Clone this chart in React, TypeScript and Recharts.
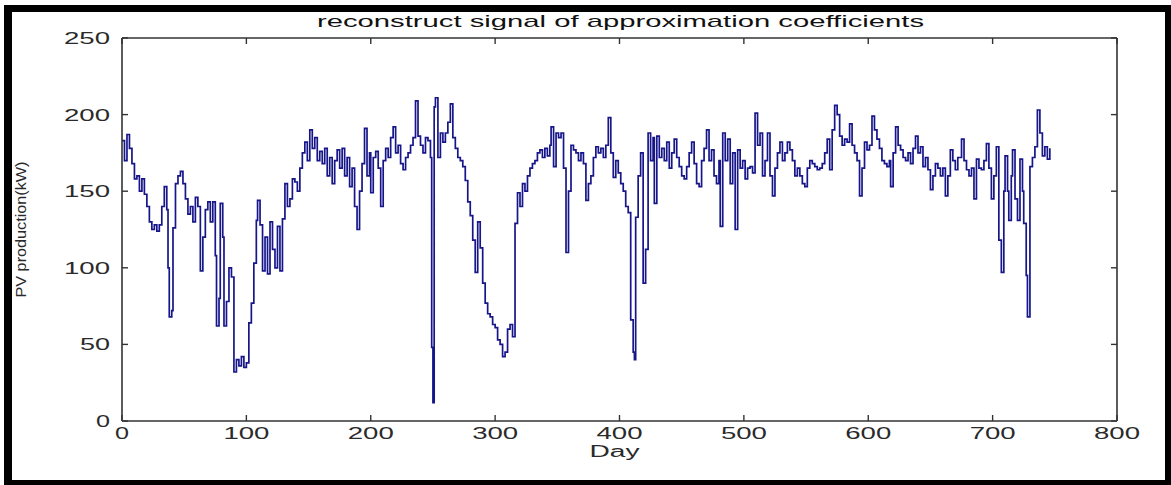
import React from "react";
import { LineChart, Line, XAxis, YAxis } from "recharts";

// ---- data (day, PV production) ----
const daysA = [0,2,4,6,8,10,12,14,16,18,20,22,24,26,28,30,32,34,36,37,38,40,41,43,45,47,49,51,53,55,57,59,61,63,65,67,69,71,73,75,76,78,79,81,82,84,86,88,90,92,94,96,98,100,102,104,106,108,109,111,113,115,117,119,121,123,125,127,129,131,133,135,137,139,141,143,145,147,149,151,153,155,157,159];
const pvA = [183,170,187,178,168,158,160,150,158,148,140,130,125,128,124,128,140,153,138,100,68,72,126,155,160,163,155,145,135,140,130,146,140,98,120,138,143,130,143,108,62,80,142,120,62,78,100,94,32,40,36,42,35,38,64,77,103,131,144,128,98,120,96,130,112,100,127,98,132,155,140,145,158,156,150,165,175,182,170,190,178,185,170,176];

const daysB = [161,163,165,167,169,171,173,175,177,179,181,183,185,187,189,191,193,195,197,199,200,202,204,206,208,210,212,214,216,218,220,222,224,226,228,230,232,234,236,238,240,242,244,246,248,249,250,251,252,254,256,258,260,262,264,266,268,270,272,274,276,278,280,282,284,286,288,290,292,294,296,298,300,302,304,306,308,310,312,314,316,318,320,322,324];
const pvB = [168,178,160,172,155,170,177,165,178,160,172,153,165,140,125,150,168,191,160,175,149,172,176,165,140,170,178,172,185,192,175,180,168,164,172,175,180,185,209,186,180,175,185,183,172,48,12,205,211,172,188,182,188,195,207,185,178,172,170,166,157,143,134,118,97,130,113,90,77,70,68,63,61,53,50,42,45,60,63,55,129,149,140,155,150];

const daysC = [326,328,330,332,334,336,338,340,342,344,345,347,349,351,353,355,357,359,361,363,365,367,369,371,373,375,377,379,381,383,385,387,389,391,393,395,397,399,401,403,405,407,409,411,412,413,415,417,419,421,423,425,427,428,430,432,434,436,438,440,442,444,446,448,450,452,454,456,458,460,462,464,466,468,470,472,474,476,478,480,481,483];
const pvC = [160,165,168,170,175,177,172,178,173,180,192,166,188,185,188,165,110,150,180,177,175,170,175,168,144,155,160,172,179,175,178,172,180,198,175,159,170,162,155,150,140,136,66,45,40,133,160,175,90,112,188,170,185,142,186,172,178,170,182,165,175,184,172,166,160,158,166,175,182,168,155,153,170,178,190,170,177,160,155,170,127,188];

const daysD = [485,487,489,491,493,495,497,499,501,503,505,507,509,511,513,515,517,519,521,523,525,527,529,531,533,535,537,539,541,543,545,547,549,551,553,555,557,559,561,563,565,567,569,571,573,575,577,579,581,583,585,587,589,591,593,595,597,599,601,603,605,607,609,611,613,615,617,618,620,622,624,626,628,630,632,634,636,638,640];
const pvD = [170,184,155,175,125,177,165,170,158,165,166,162,201,180,188,160,170,188,160,147,165,175,182,170,175,182,177,170,160,165,160,155,153,165,170,168,166,164,165,168,175,184,164,190,206,200,186,180,184,182,194,180,175,170,147,165,182,177,180,199,190,184,178,170,168,166,170,153,175,192,180,177,172,170,175,168,178,186,175];

const daysE = [642,644,646,648,650,652,654,656,658,660,662,664,666,668,670,672,675,677,679,681,683,685,687,689,691,693,695,697,699,701,703,705,707,709,710,712,713,715,716,718,720,722,724,725,727,728,730,732,734,736,738,740,742,744,746];
const pvE = [179,166,172,164,151,160,168,165,160,165,147,160,177,170,164,172,184,170,164,160,165,145,171,165,164,170,181,165,145,160,179,118,97,150,173,150,131,160,177,145,131,171,150,129,95,68,166,172,179,203,188,173,179,171,178];

const xTicks = [0, 100, 200, 300, 400, 500, 600, 700, 800];
const yTicks = [0, 50, 100, 150, 200, 250];

const TITLE = "reconstruct signal of approximation coefficients";
const X_LABEL = "Day";
const Y_LABEL = "PV production(kW)";

const allDays = [...daysA, ...daysB, ...daysC, ...daysD, ...daysE];
const allPv = [...pvA, ...pvB, ...pvC, ...pvD, ...pvE];
const data = allDays.map((d, i) => ({ day: d, pv: allPv[i] }));

const AXIS = "#333333";
const TEXT = "#2a2a2a";
const FONT = "'Liberation Sans', Arial, sans-serif";
const TICK_LEN = 6;

const labelLen = (s: string) => (s.length === 1 ? 14 : s.length === 2 ? 30 : 46);

const BottomTick = (props: any) => {
  const { x, y, payload } = props;
  const s = String(payload.value);
  return (
    <g>
      <line x1={x} y1={y} x2={x} y2={y - TICK_LEN} stroke={AXIS} strokeWidth={1.4} />
      <text x={x} y={y + 18} textAnchor="middle" fontSize={16} fontFamily={FONT} fill={TEXT}
        textLength={labelLen(s)} lengthAdjust="spacingAndGlyphs">{s}</text>
    </g>
  );
};

const TopTick = (props: any) => {
  const { x, y } = props;
  return <line x1={x} y1={y} x2={x} y2={y + TICK_LEN} stroke={AXIS} strokeWidth={1.4} />;
};

const LeftTick = (props: any) => {
  const { x, y, payload } = props;
  const s = String(payload.value);
  return (
    <g>
      <line x1={x} y1={y} x2={x + TICK_LEN} y2={y} stroke={AXIS} strokeWidth={1.4} />
      <text x={x - 12} y={y + 6} textAnchor="end" fontSize={16} fontFamily={FONT} fill={TEXT}
        textLength={labelLen(s)} lengthAdjust="spacingAndGlyphs">{s}</text>
    </g>
  );
};

const RightTick = (props: any) => {
  const { x, y } = props;
  return <line x1={x} y1={y} x2={x - TICK_LEN} y2={y} stroke={AXIS} strokeWidth={1.4} />;
};

const renderTitle = (props: any) => {
  const vb = props.viewBox || {};
  const cx = (vb.x ?? 122) + (vb.width ?? 995) / 2 + 1;
  return (
    <text x={cx} y={27} textAnchor="middle" fontSize={17} fontFamily={FONT} fill="#111"
      textLength={607} lengthAdjust="spacingAndGlyphs">{TITLE}</text>
  );
};

const renderXLabel = (props: any) => {
  const vb = props.viewBox || {};
  const cx = (vb.x ?? 122) + (vb.width ?? 995) / 2 - 5;
  return (
    <text x={cx} y={457} textAnchor="middle" fontSize={16} fontFamily={FONT} fill={TEXT}
      textLength={50} lengthAdjust="spacingAndGlyphs">{X_LABEL}</text>
  );
};

const renderYLabel = (props: any) => {
  const vb = props.viewBox || {};
  const cy = (vb.y ?? 38) + (vb.height ?? 383) / 2;
  return (
    <text x={26} y={cy} transform={`rotate(-90 26 ${cy})`} textAnchor="middle" fontSize={14}
      fontFamily={FONT} fill={TEXT} textLength={136} lengthAdjust="spacingAndGlyphs">{Y_LABEL}</text>
  );
};

export default function App() {
  return (
    <div style={{ position: "absolute", left: 0, top: 0, width: 1171, height: 485, background: "#fff" }}>
      <LineChart
        width={1171}
        height={485}
        data={data}
        margin={{ top: 8, right: 44, bottom: 34, left: 62 }}
      >
        <XAxis
          dataKey="day"
          type="number"
          domain={[0, 800]}
          ticks={xTicks}
          interval={0}
          height={30}
          axisLine={{ stroke: AXIS, strokeWidth: 1.6 }}
          tickLine={false}
          tickSize={0}
          tickMargin={0}
          tick={<BottomTick />}
          label={renderXLabel}
        />
        <XAxis
          xAxisId="top"
          dataKey="day"
          orientation="top"
          type="number"
          domain={[0, 800]}
          ticks={xTicks}
          interval={0}
          height={30}
          axisLine={{ stroke: AXIS, strokeWidth: 1.6 }}
          tickLine={false}
          tickSize={0}
          tickMargin={0}
          tick={<TopTick />}
          label={renderTitle}
        />
        <YAxis
          type="number"
          domain={[0, 250]}
          ticks={yTicks}
          interval={0}
          width={60}
          axisLine={{ stroke: AXIS, strokeWidth: 1.6 }}
          tickLine={false}
          tickSize={0}
          tickMargin={0}
          tick={<LeftTick />}
          label={renderYLabel}
        />
        <YAxis
          yAxisId="right"
          orientation="right"
          type="number"
          domain={[0, 250]}
          ticks={yTicks}
          interval={0}
          width={10}
          axisLine={{ stroke: AXIS, strokeWidth: 1.6 }}
          tickLine={false}
          tickSize={0}
          tickMargin={0}
          tick={<RightTick />}
        />
        <Line
          xAxisId="top"
          yAxisId="right"
          type="stepAfter"
          dataKey="pv"
          stroke="none"
          dot={false}
          activeDot={false}
          isAnimationActive={false}
        />
        <Line
          type="stepAfter"
          dataKey="pv"
          stroke="#16168a"
          strokeWidth={1.7}
          dot={false}
          isAnimationActive={false}
        />
      </LineChart>
      <div
        style={{
          position: "absolute",
          left: 4,
          top: 5,
          width: 1167,
          height: 480,
          boxSizing: "border-box",
          borderTop: "7px solid #000",
          borderLeft: "8px solid #000",
          borderRight: "6px solid #000",
          borderBottom: "5px solid #000",
          pointerEvents: "none",
        }}
      />
    </div>
  );
}
